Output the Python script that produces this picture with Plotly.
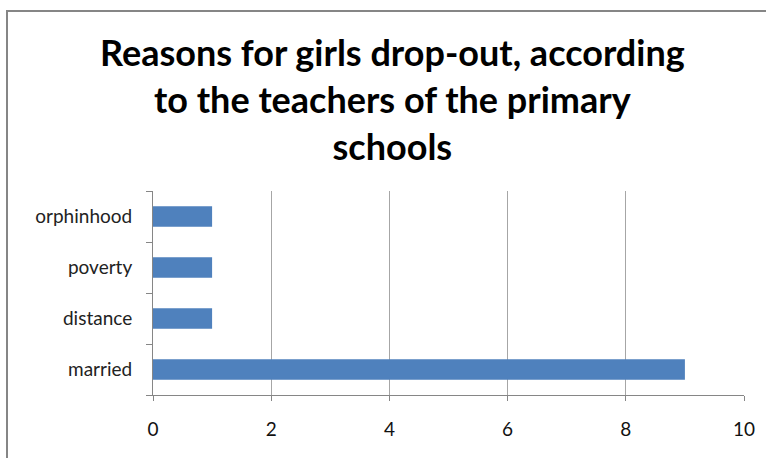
import plotly.graph_objects as go

# Reasons given by primary-school teachers, counts per reason
reasons = ["married", "distance", "poverty", "orphinhood"]
counts = [9, 1, 1, 1]
x_ticks = [0, 2, 4, 6, 8, 10]

W, H = 766, 458
L, R, T, B = 153, 22, 191, 63
pw, ph = W - L - R, H - T - B

FONT = "Lato, Open Sans, sans-serif"

fig = go.Figure(
    go.Bar(
        x=counts,
        y=reasons,
        orientation="h",
        marker=dict(color="#4F81BD", line=dict(width=0)),
        width=0.4,
        hoverinfo="x+y",
    )
)

axis_grey = "#868686"

fig.update_layout(
    width=W,
    height=H,
    margin=dict(l=L, r=R, t=T, b=B, pad=0),
    paper_bgcolor="white",
    plot_bgcolor="white",
    showlegend=False,
    font=dict(family=FONT, color="#000000"),
    annotations=[
        dict(
            text="Reasons for girls drop-out, according<br>to the teachers of the primary<br>schools",
            xref="paper",
            yref="paper",
            x=(392 - L) / pw,
            y=(H - B - 99) / ph,
            xanchor="center",
            yanchor="middle",
            align="center",
            showarrow=False,
            font=dict(family=FONT, size=36, color="#000000", weight="bold"),
        )
    ],
    xaxis=dict(
        range=[0, 10],
        tickvals=x_ticks,
        ticktext=[str(v) for v in x_ticks],
        showgrid=True,
        gridcolor="#a6a6a6",
        gridwidth=1,
        showline=True,
        linecolor=axis_grey,
        linewidth=1,
        ticks="outside",
        ticklen=5,
        tickcolor=axis_grey,
        ticklabelstandoff=12,
        tickfont=dict(family=FONT, size=19, color="#111111"),
        zeroline=False,
        fixedrange=True,
    ),
    yaxis=dict(
        categoryorder="array",
        categoryarray=reasons,
        showline=True,
        linecolor=axis_grey,
        linewidth=1,
        ticks="outside",
        tickson="boundaries",
        ticklen=6,
        tickcolor=axis_grey,
        ticklabelstandoff=16,
        tickfont=dict(family=FONT, size=19, color="#222222"),
        showgrid=False,
        fixedrange=True,
    ),
    shapes=[
        # outer chart frame
        dict(
            type="rect",
            xref="paper",
            yref="paper",
            x0=(7 - L) / pw,
            x1=1.2,
            y0=-0.6,
            y1=(H - B - 11) / ph,
            line=dict(color=axis_grey, width=2),
            fillcolor="rgba(0,0,0,0)",
            layer="below",
        )
    ],
)

fig.write_html("out.html")
